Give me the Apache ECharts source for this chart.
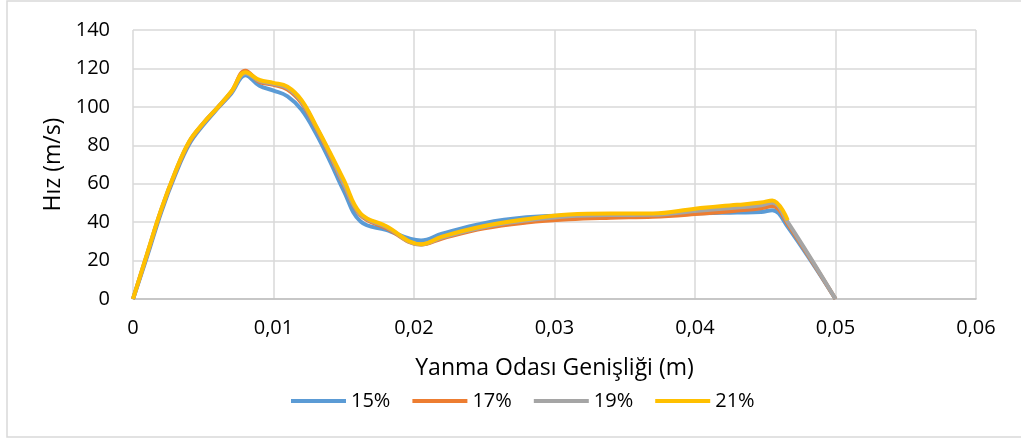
<!DOCTYPE html>
<html>
<head>
<meta charset="utf-8">
<script src="https://cdn.jsdelivr.net/npm/echarts@6/dist/echarts.min.js"></script>
<style>
  html, body { margin: 0; padding: 0; background: #fff; }
  #main { width: 1021px; height: 439px; }
</style>
</head>
<body>
<div id="main"></div>
<script>
// x positions (m)
var xs = [0, 0.001, 0.002, 0.003, 0.004, 0.005, 0.006, 0.007, 0.008, 0.009, 0.010, 0.011, 0.012, 0.013, 0.014, 0.015, 0.0162, 0.018, 0.0205, 0.022, 0.025, 0.028, 0.031, 0.034, 0.037, 0.040, 0.043, 0.0447, 0.0455, 0.0466, 0.050]

// velocities (m/s), one list per series
var v15 = [0, 22, 45, 64.5, 80.5, 90.5, 99, 107, 116.5, 111, 108.5, 105.5, 98.5, 86.5, 72, 56.3, 40.3, 36, 30.5, 34, 39.5, 42.5, 43.5, 43.5, 43.5, 44.5, 45, 45.3, 46.2, 37.5, 0]
var v17 = [0, 23, 46, 65.5, 81.5, 91.3, 99.4, 107.7, 118.8, 113, 111.5, 109, 102, 89.5, 75, 59.5, 43.5, 37, 28.3, 31.5, 36.8, 39.8, 41.5, 42.3, 42.8, 44.2, 46, 47.2, 48.4, 39, 0]
var v19 = [0, 23.3, 46.3, 65.8, 81.8, 91.4, 99.5, 107.8, 117.5, 113.5, 112, 109.8, 102.8, 90, 75.8, 60, 44, 37.6, 28.4, 32, 37.5, 40.8, 43, 43.7, 43.8, 45.8, 47.6, 48.8, 50.1, 40, 0]
var v21 = [0, 23.5, 46.5, 66, 82, 91.5, 99.5, 108, 118, 114, 112.5, 110.5, 103.5, 90.5, 76.5, 62, 44.5, 38, 28.5, 32.5, 38, 41.5, 44, 44.5, 44.5, 47, 49, 50.2, 51.3, 41]

var names = ['15%', '17%', '19%', '21%']
var colors = ['#5b9bd5', '#ed7d31', '#a5a5a5', '#ffc000']

var xTicks = [0, 0.01, 0.02, 0.03, 0.04, 0.05, 0.06]
var yTicks = [0, 20, 40, 60, 80, 100, 120, 140]

function pairs(ys) {
    var out = []
    for (var i = 0; i < ys.length; i++) {
        out.push([xs[i], ys[i]])
    }
    return out
}

var allValues = [v15, v17, v19, v21]

var series = allValues.map(function (ys, i) {
    return {
        name: names[i],
        type: 'line',
        data: pairs(ys),
        smooth: 0.4,
        symbol: 'none',
        lineStyle: { width: 4, color: colors[i] },
        itemStyle: { color: colors[i] }
    }
})

var myChart = echarts.init(document.getElementById('main'))
var font = 'Open Sans, Liberation Sans, sans-serif'

var option = {
    backgroundColor: '#fff',
    animation: false,
    graphic: [{
        type: 'rect',
        shape: { x: 7, y: 1, width: 1020, height: 436 },
        style: { fill: 'none', stroke: '#d9d9d9', lineWidth: 1.5 }
    }],
    grid: { left: 133, right: 45, top: 30, bottom: 140 },
    legend: {
        data: names,
        left: 286,
        top: 386,
        icon: 'rect',
        itemWidth: 55,
        itemHeight: 4,
        itemGap: 22,
        textStyle: { fontFamily: font, fontSize: 20, color: '#000' }
    },
    xAxis: {
        type: 'value',
        min: xTicks[0],
        max: xTicks[xTicks.length - 1],
        interval: 0.01,
        name: 'Yanma Odası Genişliği (m)',
        nameLocation: 'middle',
        nameGap: 58,
        nameTextStyle: { fontFamily: font, fontSize: 23, color: '#000' },
        axisLine: { show: true, lineStyle: { color: '#bfbfbf', width: 1.5 } },
        axisTick: { show: false },
        splitLine: { show: true, lineStyle: { color: '#d9d9d9', width: 1.5 } },
        axisLabel: {
            fontFamily: font, fontSize: 20, color: '#000', margin: 19,
            formatter: function (v) { return String(Math.round(v * 100) / 100).replace('.', ',') }
        }
    },
    yAxis: {
        type: 'value',
        min: yTicks[0],
        max: yTicks[yTicks.length - 1],
        interval: 20,
        name: 'Hız (m/s)',
        nameLocation: 'middle',
        nameGap: 68,
        nameRotate: 90,
        nameTextStyle: { fontFamily: font, fontSize: 23, color: '#000' },
        axisLine: { show: false },
        axisTick: { show: false },
        splitLine: { show: true, lineStyle: { color: '#d9d9d9', width: 1.5 } },
        axisLabel: { fontFamily: font, fontSize: 20, color: '#000', margin: 23 }
    },
    series: series
}

myChart.setOption(option)
</script>
</body>
</html>
